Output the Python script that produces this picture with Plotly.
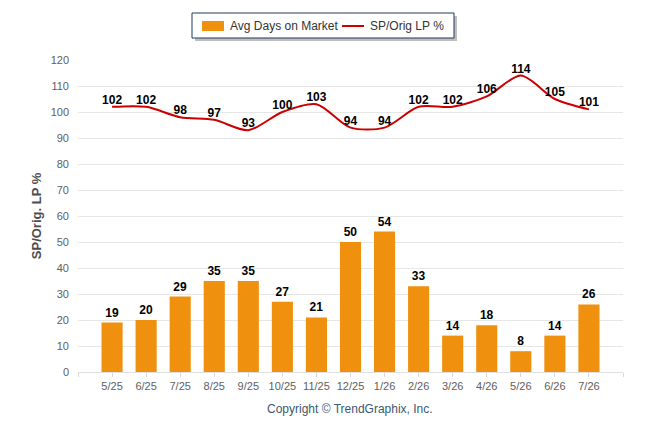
import plotly.graph_objects as go

months = ["5/25", "6/25", "7/25", "8/25", "9/25", "10/25", "11/25", "12/25",
          "1/26", "2/26", "3/26", "4/26", "5/26", "6/26", "7/26"]
avg_days = [19, 20, 29, 35, 35, 27, 21, 50, 54, 33, 14, 18, 8, 14, 26]
sp_orig_lp = [102, 102, 98, 97, 93, 100, 103, 94, 94, 102, 102, 106, 114, 105, 101]

xs = list(range(len(months)))
font_family = "Arial, Liberation Sans, sans-serif"

# page puts the figure 8px in from the window corner
OFF = 8
W, H = 646, 434
# plot area in window pixels
L, R, T, B = 78, 623, 60, 372


def px(x):
    return (x - L) / (R - L)


def py(y):
    return (B - y) / (B - T)


fig = go.Figure()

fig.add_trace(go.Bar(
    x=xs, y=avg_days, name="Avg Days on Market",
    marker=dict(color="#F0900F", line=dict(width=0)),
    width=0.62,
    text=[str(v) for v in avg_days], textposition="outside",
    textfont=dict(family=font_family, size=12, color="#000000"),
    texttemplate="<b>%{text}</b>", cliponaxis=False,
))

fig.add_trace(go.Scatter(
    x=xs, y=sp_orig_lp, name="SP/Orig LP %",
    mode="lines+text",
    line=dict(color="#CC0000", width=2, shape="spline", smoothing=0.8),
    text=["<b>%d</b>" % v for v in sp_orig_lp], textposition="top center",
    textfont=dict(family=font_family, size=12, color="#000000"),
    cliponaxis=False,
))

# hand-drawn legend (box with shadow)
shapes = [
    dict(type="rect", xref="paper", yref="paper",
         x0=px(195), x1=px(457), y0=py(41), y1=py(16),
         fillcolor="rgba(0,0,0,0.25)", line=dict(width=0)),
    dict(type="rect", xref="paper", yref="paper",
         x0=px(192), x1=px(454), y0=py(38), y1=py(13),
         fillcolor="white", line=dict(color="#1F3864", width=1)),
    dict(type="rect", xref="paper", yref="paper",
         x0=px(202), x1=px(224), y0=py(31), y1=py(21),
         fillcolor="#F0900F", line=dict(width=0)),
    dict(type="line", xref="paper", yref="paper",
         x0=px(342), x1=px(364), y0=py(26), y1=py(26),
         line=dict(color="#CC0000", width=2)),
]

annotations = [
    dict(text="Avg Days on Market", xref="paper", yref="paper",
         x=px(228), y=py(26), xanchor="left", yanchor="middle", showarrow=False,
         font=dict(size=12, color="#333333")),
    dict(text="SP/Orig LP %", xref="paper", yref="paper",
         x=px(368), y=py(26), xanchor="left", yanchor="middle", showarrow=False,
         font=dict(size=12, color="#333333")),
    dict(text="Copyright \u00a9 TrendGraphix, Inc.", xref="paper", yref="paper",
         x=px(350), y=py(409), xanchor="center", yanchor="middle", showarrow=False,
         font=dict(size=12, color="#3E576F")),
]

fig.update_layout(
    width=W, height=H,
    margin=dict(l=L - OFF, r=W - R + OFF, t=T - OFF, b=H - B + OFF, autoexpand=False),
    paper_bgcolor="white", plot_bgcolor="white",
    font=dict(family=font_family, size=11, color="#606060"),
    showlegend=False,
    shapes=shapes,
    annotations=annotations,
    xaxis=dict(range=[-1, 15], tickmode="array", tickvals=list(range(-1, 16)),
               ticktext=[""] + months + [""], showgrid=False, zeroline=False,
               showline=True, linecolor="#E0E0E0", linewidth=1,
               ticks="outside", ticklen=4, tickcolor="#D8D8D8",
               tickfont=dict(size=11, color="#606060"), fixedrange=True),
    yaxis=dict(range=[0, 120], dtick=10, showgrid=True, gridcolor="#E6E6E6",
               zeroline=False, showline=False, ticks="", ticklabelstandoff=8,
               tickfont=dict(size=11, color="#606060"),
               title=dict(text="<b>SP/Orig. LP %</b>", standoff=6,
                          font=dict(size=13, color="#4D4D4D"))),
)

fig.write_html("out.html")
